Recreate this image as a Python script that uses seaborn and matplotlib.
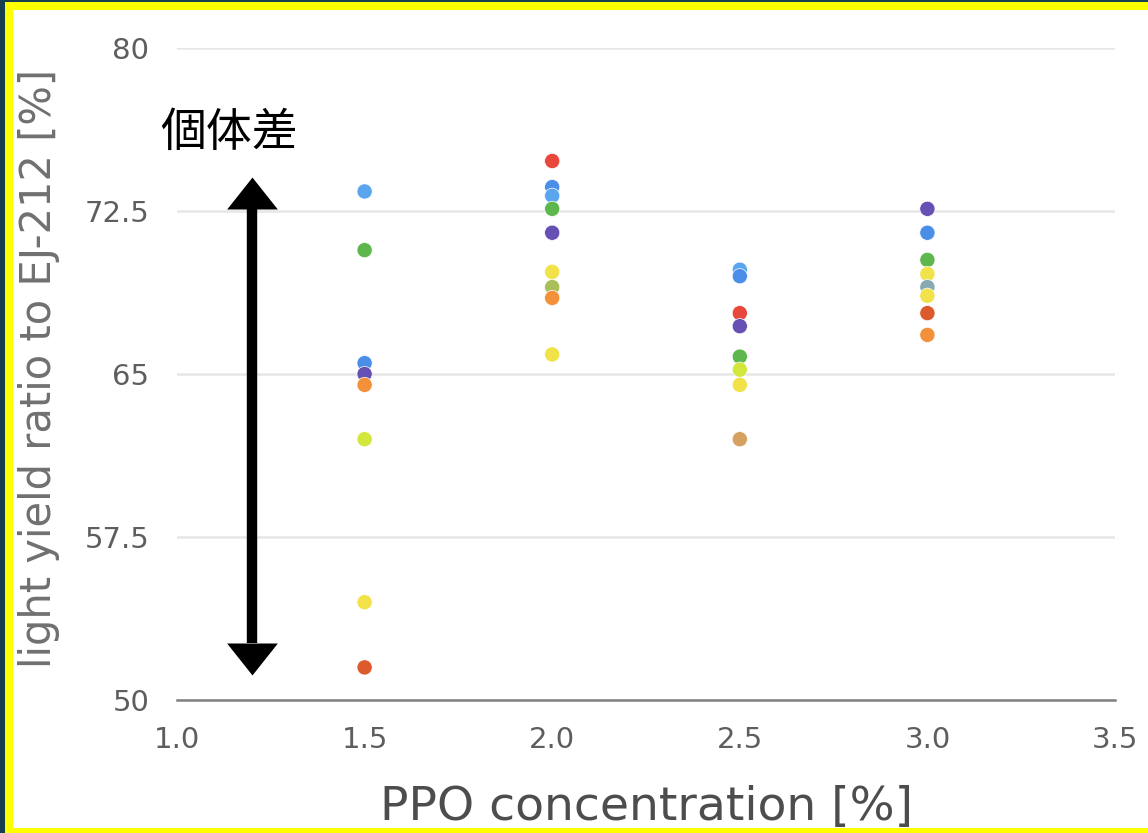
import matplotlib
matplotlib.use("Agg")
import matplotlib.pyplot as plt
import seaborn as sns
import pandas as pd
from matplotlib.patches import Rectangle
from matplotlib.path import Path

# Light yield of each sample relative to EJ-212, per PPO concentration
ratio_15 = [73.4, 70.7, 65.5, 65.0, 64.5, 62.0, 54.5, 51.5]
sample_15 = ["sky", "green", "blue", "purple", "orange", "lime", "yellow", "vermilion"]

ratio_20 = [74.8, 73.6, 73.2, 72.6, 71.5, 69.7, 69.0, 68.5, 65.9]
sample_20 = ["red", "blue", "sky", "green", "purple", "yellow", "olive", "orange", "yellow"]

ratio_25 = [69.8, 69.5, 67.8, 67.2, 65.8, 65.2, 64.5, 62.0]
sample_25 = ["sky", "blue", "red", "purple", "green", "lime", "yellow", "tan"]

ratio_30 = [72.6, 71.5, 70.25, 69.6, 69.0, 68.6, 67.8, 66.8]
sample_30 = ["purple", "blue", "green", "yellow", "teal", "yellow", "vermilion", "orange"]

ppo_levels = [1.5, 2.0, 2.5, 3.0]

sample_colors = {
    "red": "#e8473b",
    "vermilion": "#dc5a2c",
    "orange": "#f2913a",
    "tan": "#d6a060",
    "yellow": "#f2e24a",
    "lime": "#d2e63c",
    "olive": "#a9c05a",
    "green": "#5db74c",
    "teal": "#86aab0",
    "sky": "#5aa6ee",
    "blue": "#4a8ee8",
    "purple": "#6650b4",
}

x_ticks = [1.0, 1.5, 2.0, 2.5, 3.0, 3.5]
y_ticks = [50, 57.5, 65, 72.5, 80]
y_ticklabels = ["50", "57.5", "65", "72.5", "80"]

rows = []
for level, vals, names in zip(ppo_levels,
                              [ratio_15, ratio_20, ratio_25, ratio_30],
                              [sample_15, sample_20, sample_25, sample_30]):
    for v, n in zip(vals, names):
        rows.append({"ppo": level, "ratio": v, "sample": n})
df = pd.DataFrame(rows)

sns.set_theme(style="white")
plt.rcParams["font.family"] = ["DejaVu Sans"]

W, H = 1148, 833
fig = plt.figure(figsize=(W / 100, H / 100), dpi=100, facecolor="#16404f")

# framed white panel behind the plot
fig.patches.append(Rectangle((5 / W, 0), 1.0, 831 / H, transform=fig.transFigure,
                             facecolor="#ffff00", edgecolor="none", zorder=-20))
fig.patches.append(Rectangle((13 / W, 5 / H), 1.0, 818 / H, transform=fig.transFigure,
                             facecolor="white", edgecolor="none", zorder=-10))

ax = fig.add_axes([177 / W, 133 / H, 938 / W, 652 / H])
ax.set_facecolor("none")

sns.scatterplot(data=df, x="ppo", y="ratio", hue="sample", palette=sample_colors,
                s=120, edgecolor="white", linewidth=0.5, legend=False, ax=ax, zorder=3)

ax.set_xlim(1.0, 3.5)
ax.set_ylim(50, 80)
ax.set_xticks(x_ticks)
ax.set_xticklabels([f"{t:.1f}" for t in x_ticks])
ax.set_yticks(y_ticks)
ax.set_yticklabels(y_ticklabels)

ax.grid(axis="y", color="#e6e6e6", linewidth=1.8)
ax.grid(axis="x", visible=False)
for side in ["left", "right", "top"]:
    ax.spines[side].set_visible(False)
ax.spines["bottom"].set_color("#808080")
ax.spines["bottom"].set_linewidth(1.8)

ax.tick_params(axis="x", colors="#808080", labelcolor="#5e5e5e", labelsize=21,
               length=3, width=1.5, pad=16)
ax.tick_params(axis="y", labelcolor="#5e5e5e", labelsize=21, length=0, pad=20)

ax.set_xlabel("PPO concentration [%]", fontsize=34, color="#4d4d4d", labelpad=22)
ax.set_ylabel("light yield ratio to EJ-212 [%]", fontsize=30, color="#707070")
ax.yaxis.set_label_coords(-0.125, 0.509)

# double-headed arrow marking the spread between individual samples
arrow_x = 1.2
arrow_top, arrow_bottom = 72.6, 52.6
ax.plot([arrow_x, arrow_x], [arrow_top, arrow_bottom], color="black", lw=7.5,
        solid_capstyle="butt", clip_on=False, zorder=5)
head_up = Path([(-1, 0), (1, 0), (0, 1.26), (-1, 0)],
               [Path.MOVETO, Path.LINETO, Path.LINETO, Path.CLOSEPOLY])
head_down = Path([(-1, 0), (1, 0), (0, -1.26), (-1, 0)],
                 [Path.MOVETO, Path.LINETO, Path.LINETO, Path.CLOSEPOLY])
ax.plot([arrow_x], [arrow_top], marker=head_up, markersize=46, color="black",
        markeredgewidth=0, clip_on=False, zorder=5)
ax.plot([arrow_x], [arrow_bottom], marker=head_down, markersize=46, color="black",
        markeredgewidth=0, clip_on=False, zorder=5)
ax.text(0.955, 76.1, "個体差", fontsize=33, color="black", ha="left", va="center",
        family=["Noto Sans CJK JP", "DejaVu Sans"], clip_on=False, zorder=5)

fig.savefig("out.png", dpi=100, facecolor=fig.get_facecolor())
